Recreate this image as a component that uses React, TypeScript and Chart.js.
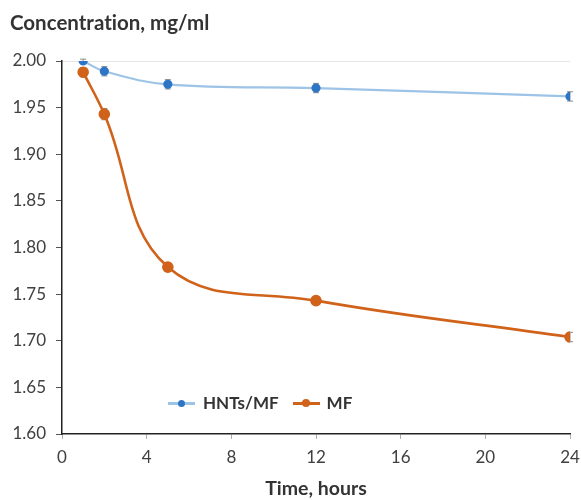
import React, { useEffect, useRef } from "react";
import { Chart, registerables } from "chart.js";

Chart.register(...registerables);

const timeHours = [1, 2, 5, 12, 24];
const hntsValues = [2.0, 1.989, 1.975, 1.971, 1.962];
const hntsErrors = [0.002, 0.005, 0.005, 0.005, 0.005];
const mfValues = [1.988, 1.943, 1.779, 1.743, 1.704];
const mfErrors = [0.005, 0.006, 0.004, 0.004, 0.005];
const xTicks = [0, 4, 8, 12, 16, 20, 24];
const seriesNames = ["HNTs/MF", "MF"];

const FONT = "Lato, 'Open Sans', sans-serif";
const BLUE_LINE = "#9dc3e6";
const BLUE_DOT = "#2e75c6";
const ORANGE = "#d0621a";

const errorBarPlugin = {
  id: "errorBars",
  beforeDatasetsDraw(chart: any) {
    const ctx = chart.ctx;
    const yScale = chart.scales.y;
    const errs = [hntsErrors, mfErrors];
    ctx.save();
    ctx.strokeStyle = "#8a8a8a";
    ctx.lineWidth = 1;
    chart.data.datasets.forEach((ds: any, di: number) => {
      const meta = chart.getDatasetMeta(di);
      meta.data.forEach((pt: any, i: number) => {
        const v = ds.data[i].y;
        const e = errs[di][i];
        const y1 = yScale.getPixelForValue(v + e);
        const y2 = yScale.getPixelForValue(v - e);
        const x = pt.x;
        ctx.beginPath();
        ctx.moveTo(x, y1);
        ctx.lineTo(x, y2);
        ctx.moveTo(x - 3, y1);
        ctx.lineTo(x + 3, y1);
        ctx.moveTo(x - 3, y2);
        ctx.lineTo(x + 3, y2);
        ctx.stroke();
      });
    });
    ctx.restore();
  },
};

export default function App() {
  const ref = useRef<HTMLCanvasElement | null>(null);
  useEffect(() => {
    document.body.style.margin = "0";
    if (!ref.current) return;
    const chart = new Chart(ref.current, {
      type: "line",
      data: {
        datasets: [
          {
            label: seriesNames[0],
            data: timeHours.map((t, i) => ({ x: t, y: hntsValues[i] })),
            borderColor: BLUE_LINE,
            backgroundColor: BLUE_DOT,
            pointBackgroundColor: BLUE_DOT,
            pointBorderColor: BLUE_DOT,
            pointRadius: 3.5,
            borderWidth: 2.2,
            tension: 0.4,
          },
          {
            label: seriesNames[1],
            data: timeHours.map((t, i) => ({ x: t, y: mfValues[i] })),
            borderColor: ORANGE,
            backgroundColor: ORANGE,
            pointBackgroundColor: ORANGE,
            pointBorderColor: ORANGE,
            pointRadius: 4.5,
            borderWidth: 2.6,
            tension: 0.4,
          },
        ],
      },
      options: {
        animation: false,
        responsive: false,
        layout: { padding: { top: 61, right: 11, left: 0, bottom: 0 } },
        plugins: {
          legend: { display: false },
          title: { display: false },
          tooltip: { enabled: false },
        },
        scales: {
          x: {
            type: "linear",
            min: 0,
            max: 24,
            afterFit(scale: any) {
              scale.height = 66;
              scale.paddingRight = 0;
              scale.paddingLeft = 0;
            },
            afterBuildTicks(scale: any) {
              scale.ticks = xTicks.map((v) => ({ value: v }));
            },
            border: { color: "#222", width: 1.5 },
            grid: {
              drawOnChartArea: false,
              drawTicks: true,
              tickLength: 5,
              tickColor: "#b0b0b0",
            },
            ticks: {
              padding: 8,
              color: "#404040",
              font: { family: FONT, size: 17 },
              maxRotation: 0,
            },
            title: {
              display: true,
              text: "Time, hours",
              color: "#333",
              font: { family: FONT, size: 19.5, weight: "bold" },
              padding: { top: 0, bottom: 0 },
            },
          },
          y: {
            min: 1.6,
            max: 2.0,
            afterFit(scale: any) {
              scale.width = 62;
            },
            border: { color: "#222", width: 1.5 },
            grid: {
              drawOnChartArea: true,
              color: (c: any) =>
                c.tick && Math.abs(c.tick.value - 2.0) < 1e-6 ? "#e6e6e6" : "rgba(0,0,0,0)",
              tickColor: "#555",
              tickLength: 6,
            },
            ticks: {
              stepSize: 0.05,
              padding: 10,
              color: "#404040",
              font: { family: FONT, size: 17 },
              callback: (v: any) => Number(v).toFixed(2),
            },
          },
        },
      },
      plugins: [errorBarPlugin],
    });
    return () => chart.destroy();
  }, []);

  const legendText: React.CSSProperties = {
    fontFamily: FONT,
    fontWeight: "bold",
    fontSize: 17,
    color: "#333",
    lineHeight: "20px",
  };
  const sample = (line: string, dot: string, dotSize: number): React.ReactElement => (
    <span style={{ position: "relative", display: "inline-block", width: 27, height: 20 }}>
      <span
        style={{
          position: "absolute",
          left: 0,
          right: 0,
          top: 9,
          height: 2.5,
          background: line,
        }}
      />
      <span
        style={{
          position: "absolute",
          left: 13.5 - dotSize / 2,
          top: 10 - dotSize / 2,
          width: dotSize,
          height: dotSize,
          borderRadius: "50%",
          background: dot,
        }}
      />
    </span>
  );

  return (
    <div style={{ position: "relative", width: 581, height: 500 }}>
      <canvas ref={ref} width={581} height={500} style={{ display: "block" }} />
      <div
        style={{
          position: "absolute",
          left: 10,
          top: 10,
          fontFamily: FONT,
          fontWeight: "bold",
          fontSize: 20.5,
          lineHeight: "24px",
          color: "#333",
          whiteSpace: "nowrap",
          fontVariantLigatures: "none",
        }}
      >
        Concentration, mg/ml
      </div>
      <div
        style={{
          position: "absolute",
          left: 168,
          top: 393,
          display: "flex",
          alignItems: "center",
          whiteSpace: "nowrap",
        }}
      >
        {sample(BLUE_LINE, BLUE_DOT, 7)}
        <span style={{ ...legendText, marginLeft: 8 }}>{seriesNames[0]}</span>
        <span style={{ display: "inline-block", width: 14 }} />
        {sample(ORANGE, ORANGE, 8)}
        <span style={{ ...legendText, marginLeft: 7 }}>{seriesNames[1]}</span>
      </div>
    </div>
  );
}
